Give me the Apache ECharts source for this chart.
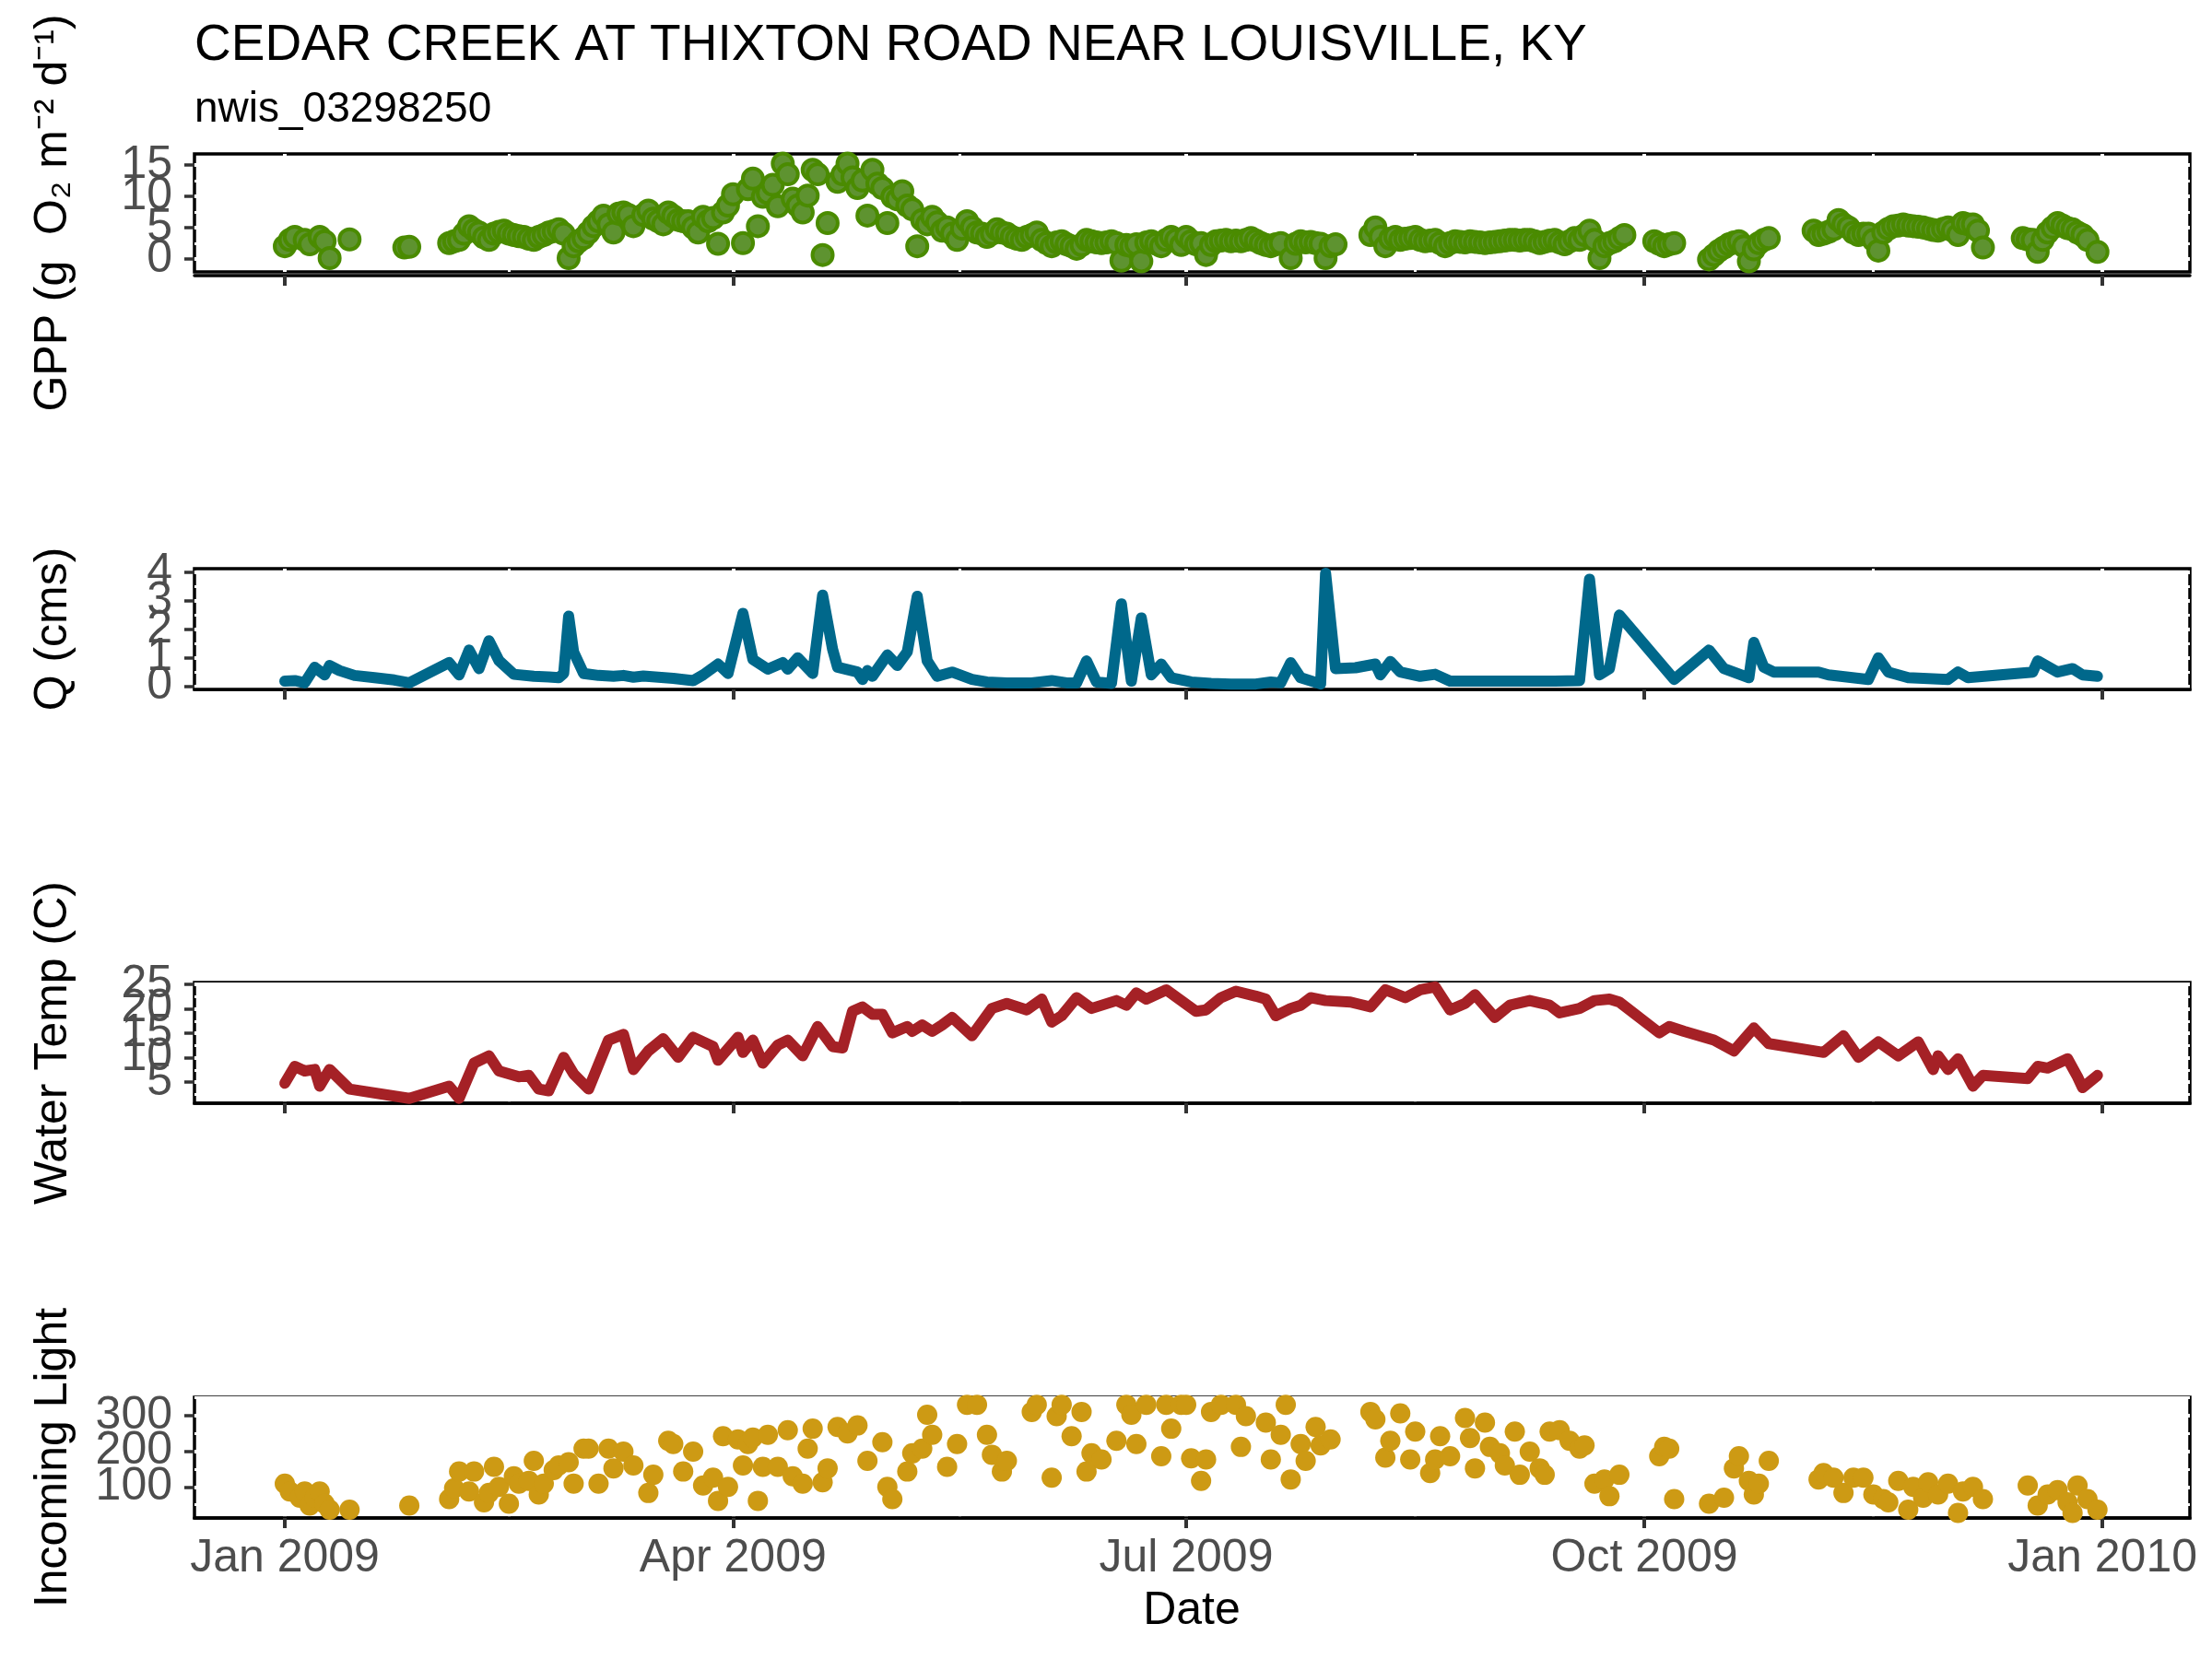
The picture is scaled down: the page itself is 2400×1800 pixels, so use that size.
<!DOCTYPE html>
<html>
<head>
<meta charset="utf-8">
<script src="https://cdn.jsdelivr.net/npm/echarts@6/dist/echarts.min.js"></script>
<style>html,body{margin:0;padding:0;background:#fff}#c{width:2400px;height:1800px}</style>
</head>
<body>
<div id="c"></div>
<script>
// ---- data (days counted from 2009-01-01) ----
const chartTitle = 'CEDAR CREEK AT THIXTON ROAD NEAR LOUISVILLE, KY';
const chartSubtitle = 'nwis_03298250';
const xTickDays = [0, 90, 181, 273, 365];
const xTickLabels = ['Jan 2009', 'Apr 2009', 'Jul 2009', 'Oct 2009', 'Jan 2010'];
const xMinorDays = [45, 135.5, 227, 319];

const gppDays = [0,1,2,4,5,7,8,9,13,24,25,
 33,34,35,36,37,38,39,40,41,42,43,44,45,46,47,48,49,50,51,52,53,54,55,56,57,58,59,60,61,62,63,64,65,66,67,68,69,70,72,73,74,75,76,77,78,79,80,81,82,83,84,85,86,87,88,89,90,92,93,94,95,96,97,98,99,100,101,102,103,104,105,106,107,108,109,111,112,113,114,115,116,117,118,119,120,121,122,123,124,125,126,127,128,129,130,131,132,133,134,135,136,137,138,139,140,141,142,143,144,145,146,147,148,149,150,151,152,153,154,155,156,157,158,159,160,161,162,163,164,165,166,167,168,169,170,171,172,173,174,175,176,177,178,179,180,181,182,183,184,185,186,187,188,189,190,191,192,193,194,195,196,197,198,199,200,202,203,204,205,206,207,208,209,210,211,
 218,219,220,221,222,223,224,225,226,227,228,229,230,231,232,233,234,235,236,237,238,239,240,241,242,243,244,245,246,247,248,249,250,251,252,253,254,255,256,257,258,259,260,261,262,263,264,265,266,267,268,269,
 275,276,277,278,279,
 286,287,288,289,290,291,292,293,294,295,296,297,298,
 307,308,309,310,311,312,313,314,315,316,317,318,319,320,321,322,323,324,325,326,327,328,329,330,331,332,333,334,335,336,337,338,339,340,341,
 349,350,351,352,353,354,355,356,357,358,359,360,361,362,364];
const gppValues = [2.0,3.0,3.5,3.0,2.3,3.5,2.8,0.1,3.1,1.8,1.9,
 2.5,2.8,3.0,4.0,5.2,4.6,4.2,3.4,3.0,4.0,4.3,4.5,4.0,3.8,3.6,3.5,3.2,3.0,3.5,3.8,4.2,4.4,4.7,4.0,0.1,2.0,2.8,3.3,4.2,5.2,6.0,6.9,5.5,4.2,7.2,7.4,7.0,5.2,7.0,7.7,6.4,6.0,5.5,7.4,6.8,6.2,6.0,6.0,5.0,4.2,6.7,6.0,6.5,2.4,7.4,8.5,10.3,2.5,11.1,12.8,5.2,9.9,10.5,11.8,8.4,15.2,13.5,9.6,8.5,7.4,10.1,14.2,13.5,0.6,5.7,12.3,13.5,15.2,13.0,11.3,12.5,6.9,14.2,12.0,11.3,5.7,9.9,9.5,10.8,8.5,7.9,2.0,6.2,5.5,6.7,5.8,4.5,5.0,4.0,3.0,4.8,6.0,5.0,4.2,4.0,3.5,4.0,4.7,4.2,4.0,3.5,3.2,3.0,3.5,3.8,4.2,3.0,2.5,2.0,2.6,2.8,2.3,2.0,1.6,2.2,3.0,2.8,2.6,2.5,2.6,2.8,2.5,-0.3,2.2,2.0,2.3,-0.4,2.6,2.8,2.4,2.0,3.0,3.5,3.0,2.2,3.5,2.8,2.3,2.5,0.6,2.2,2.8,2.9,3.0,2.8,2.9,2.8,3.0,3.3,2.9,2.5,2.2,2.0,2.3,2.5,0.1,2.4,2.8,2.6,2.7,2.5,2.4,0.1,2.0,2.3,
 3.8,5.0,3.5,2.0,3.2,3.5,3.0,3.2,3.3,3.5,3.0,2.8,2.9,3.0,2.5,2.0,2.5,2.8,2.7,2.6,2.8,2.7,2.6,2.5,2.6,2.7,2.8,2.9,3.0,3.0,2.9,3.0,3.0,2.8,2.5,2.7,2.9,3.0,2.6,2.3,2.8,3.3,3.0,3.8,4.5,3.0,0.1,2.0,2.5,2.8,3.3,3.8,
 2.8,2.4,2.0,2.3,2.5,
 -0.1,0.6,1.3,1.8,2.3,2.6,2.8,2.0,-0.4,1.5,2.5,3.0,3.3,
 4.5,3.8,4.0,4.3,4.7,6.2,5.5,5.0,4.2,3.8,4.0,4.0,3.0,1.3,4.2,4.8,5.2,5.3,5.5,5.3,5.2,5.1,5.0,4.8,4.6,4.5,4.8,5.0,4.5,3.8,5.7,5.5,5.5,4.5,1.8,
 3.3,3.1,3.0,1.1,3.0,4.2,5.0,5.7,5.3,4.9,4.7,4.2,3.8,3.0,1.1];

const qDays = [0,2,4,6,8,9,11,14,18,22,25,33,35,37,39,41,43,46,50,53,55,56,57,58,60,63,66,68,70,72,75,78,82,84,87,89,92,94,97,100,101,103,106,108,110,111,115,116,117,118,121,123,125,127,129,131,134,138,141,145,150,154,157,159,161,163,166,168,170,172,174,176,178,182,186,190,195,198,200,202,204,208,209,211,215,219,220,222,224,228,231,234,240,250,255,260,262,264,266,268,279,286,289,294,295,297,299,308,310,318,320,322,326,334,336,338,351,352,356,359,361,364];
const qValues = [0.18,0.2,0.12,0.67,0.4,0.73,0.55,0.38,0.3,0.22,0.12,0.83,0.4,1.27,0.62,1.6,0.9,0.42,0.35,0.33,0.3,0.45,2.46,1.2,0.45,0.38,0.35,0.38,0.32,0.36,0.32,0.28,0.2,0.4,0.78,0.45,2.56,0.94,0.6,0.83,0.6,1.0,0.45,3.2,1.3,0.67,0.5,0.24,0.55,0.35,1.1,0.73,1.21,3.16,0.89,0.35,0.5,0.24,0.15,0.12,0.12,0.2,0.12,0.12,0.89,0.15,0.1,2.89,0.18,2.4,0.4,0.78,0.3,0.15,0.1,0.08,0.08,0.15,0.12,0.83,0.3,0.08,3.97,0.62,0.65,0.78,0.4,0.87,0.5,0.35,0.42,0.18,0.18,0.18,0.18,0.2,3.76,0.4,0.62,2.5,0.24,1.27,0.62,0.3,1.54,0.67,0.5,0.5,0.4,0.24,1.0,0.5,0.3,0.24,0.5,0.3,0.5,0.89,0.5,0.62,0.4,0.35];

const tempDays = [0,2,4,6,7,9,13,25,33,35,38,41,43,47,49,51,53,56,58,61,65,68,70,73,76,79,82,86,87,91,92,94,96,99,101,104,107,110,112,114,116,118,120,122,125,126,128,130,132,134,138,142,145,149,152,154,156,159,162,167,169,171,173,177,180,183,185,188,191,195,197,199,202,204,206,209,214,218,221,225,228,231,234,237,239,243,246,250,254,256,260,263,266,268,276,278,281,287,291,295,298,309,313,316,320,324,328,331,332,334,336,339,341,350,352,354,358,360,361,364];
const tempValues = [4.8,8.25,7.3,7.6,4.2,7.6,3.6,1.7,4.2,1.7,8.9,10.4,7.3,6.1,6.4,3.6,3.25,10.1,6.7,3.6,13.6,14.8,7.6,11.4,13.9,10.1,14.2,12.3,9.5,14.2,11.1,13.6,8.9,12.6,13.6,10.4,16.4,12.3,12.0,19.5,20.4,18.9,18.9,15.1,16.4,15.4,16.7,15.4,16.7,18.25,14.5,20.1,21.1,19.8,22.0,17.3,18.6,22.3,20.1,21.7,20.75,23.25,22.0,23.9,21.7,19.5,19.8,22.3,23.6,22.6,22.0,18.6,20.1,20.75,22.3,21.7,21.4,20.4,23.9,22.3,23.9,24.5,19.8,21.1,22.9,18.25,20.75,21.7,20.75,19.2,20.1,21.7,22.0,21.4,15.1,16.4,15.4,13.6,11.4,16.1,12.9,11.1,14.5,10.1,13.25,10.4,13.25,7.6,10.4,7.6,9.8,4.2,6.4,5.75,8.25,7.9,9.8,6.1,3.9,6.4];

const lightDays = [0,1,3,4,5,6,7,8,9,13,25,33,34,35,37,38,40,41,42,43,45,46,47,49,50,51,52,54,55,57,58,60,61,63,65,66,68,70,73,74,77,78,80,82,84,86,87,88,89,91,92,93,94,95,96,97,99,101,102,104,105,106,108,109,111,113,115,117,120,121,122,125,126,128,129,130,133,135,137,139,141,142,144,145,150,151,154,155,156,158,160,161,162,164,167,169,170,171,173,176,177,178,180,181,182,184,185,186,188,191,192,193,197,198,200,201,202,204,205,207,208,210,218,219,221,222,224,226,227,230,231,232,234,237,238,239,241,242,244,245,247,248,250,252,253,254,256,258,260,261,263,265,266,268,276,277,278,279,286,289,291,292,294,295,296,298,308,309,311,313,315,317,319,321,322,324,326,327,329,330,332,334,336,337,339,341,350,352,354,356,358,359,360,362,364];
const lightValues = [109,87,70,87,48,70,87,53,36,36,48,66,96,143,87,143,57,83,156,100,53,130,109,117,173,79,109,147,160,169,109,207,207,109,207,152,199,160,83,134,229,220,143,199,104,126,61,242,100,233,160,220,238,61,156,246,156,259,130,109,207,263,113,152,268,250,272,173,225,100,66,143,194,207,302,246,156,220,330,330,246,190,143,173,310,330,126,298,330,242,310,143,194,177,229,330,302,220,330,186,330,263,330,330,180,117,177,310,330,330,212,298,280,177,246,330,121,220,173,268,216,233,310,289,182,229,306,177,255,139,177,242,186,293,237,152,280,212,194,160,255,134,199,152,134,255,259,229,207,216,109,121,74,134,186,212,207,66,53,70,152,186,117,79,109,173,121,139,126,83,126,126,79,66,57,117,36,100,70,113,79,109,27,87,100,66,104,48,79,91,57,27,104,66,36];

const panels = [
  {name: 'GPP (g  O\u2082 m\u207B\u00B2 d\u207B\u00B9)', days: gppDays, values: gppValues, kind: 'scatter',
   min: -2.1, max: 16.75, major: [0, 5, 10, 15], minor: [2.5, 7.5, 12.5]},
  {name: 'Q (cms)', days: qDays, values: qValues, kind: 'line',
   min: -0.11, max: 4.13, major: [0, 1, 2, 3, 4], minor: [0.5, 1.5, 2.5, 3.5]},
  {name: 'Water Temp (C)', days: tempDays, values: tempValues, kind: 'line',
   min: 0.7, max: 25.4, major: [5, 10, 15, 20, 25], minor: [2.5, 7.5, 12.5, 17.5, 22.5]},
  {name: 'Incoming Light', days: lightDays, values: lightValues, kind: 'scatter',
   min: 13, max: 351, major: [100, 200, 300], minor: [50, 150, 250, 350]}
];

// ---- layout / style ----
const DAY = 86400000;
const BASE = Date.UTC(2009, 0, 1);
const toTs = d => BASE + d * DAY;
const xMin = toTs(-18.14), xMax = toTs(382.56);
const colors = ['#4a8b00', '#00688B', '#A52126', '#CD9A14'];
const fillColors = ['#5e9330', '#00688B', '#A52126', '#CD9A14'];
const gridTops = [167, 617, 1066, 1516];
const gridHeights = [128, 131, 131, 131];
const FONT = '"Liberation Sans", Arial, sans-serif';
const majorTs = xTickDays.map(toTs);
const minorTs = xMinorDays.map(toTs);
const Y_PER_GRID = 5;

const grid = [], xAxis = [], yAxis = [], series = [], graphic = [];
panels.forEach((p, i) => {
  grid.push({left: 211, right: 24, top: gridTops[i], height: gridHeights[i], show: true,
    borderColor: '#000', borderWidth: 3.5, backgroundColor: 'transparent'});
  xAxis.push({type: 'value', gridIndex: i, min: xMin, max: xMax, position: 'bottom', z: 3,
    offset: i === 0 ? 4 : 0,
    axisLine: {show: true, onZero: false, lineStyle: {color: '#000', width: 3.5}},
    axisTick: {show: true, length: 11, inside: false, lineStyle: {color: '#333', width: 4}, customValues: majorTs},
    axisLabel: {show: i === 3, customValues: majorTs, hideOverlap: false, showMinLabel: true, showMaxLabel: true,
      fontSize: 50, fontFamily: FONT, color: '#4D4D4D', margin: 19,
      formatter: v => { const k = majorTs.indexOf(v); return k >= 0 ? xTickLabels[k] : ''; }},
    splitLine: {show: true, lineStyle: {color: '#fff', width: 4}},
    minorTick: {show: false}, minorSplitLine: {show: false}});
  xAxis.push({type: 'value', gridIndex: i, min: xMin, max: xMax, position: 'top', z: 2,
    axisLine: {show: false}, axisTick: {show: false, customValues: minorTs},
    axisLabel: {show: false, customValues: minorTs},
    splitLine: {show: true, lineStyle: {color: '#fff', width: 3}}});
  // main y axis: ticks + white major grid lines
  yAxis.push({type: 'value', gridIndex: i, min: p.min, max: p.max, position: 'left', z: 2,
    axisLine: {show: false},
    axisTick: {show: true, length: 11, lineStyle: {color: '#333', width: 3.5}, customValues: p.major},
    axisLabel: {show: false, customValues: p.major},
    splitLine: {show: true, lineStyle: {color: '#fff', width: 4}}});
  // minor y grid lines
  yAxis.push({type: 'value', gridIndex: i, min: p.min, max: p.max, position: 'right', z: 2,
    axisLine: {show: false}, axisTick: {show: false, customValues: p.minor},
    axisLabel: {show: false, customValues: p.minor},
    splitLine: {show: true, lineStyle: {color: '#fff', width: 3}}});
  // tick labels, split over three label-only axes so none are dropped
  for (let g = 0; g < 3; g++) {
    const vals = p.major.filter((v, k) => k % 3 === g);
    yAxis.push({type: 'value', gridIndex: i, min: p.min, max: p.max, position: 'left', offset: 0, z: 2,
      axisLine: {show: false}, axisTick: {show: false, customValues: vals.length ? vals : [p.min]},
      axisLabel: {show: vals.length > 0, customValues: vals.length ? vals : [p.min], hideOverlap: false,
        showMinLabel: true, showMaxLabel: true,
        fontSize: 50, fontFamily: FONT, color: '#4D4D4D', margin: 24},
      splitLine: {show: false}});
  }
  const data = p.days.map((d, k) => [toTs(d), p.values[k]]);
  if (p.kind === 'scatter') {
    series.push({type: 'scatter', xAxisIndex: 2 * i, yAxisIndex: Y_PER_GRID * i, data, symbolSize: 22, z: 5,
      itemStyle: {color: fillColors[i], borderColor: colors[i], borderWidth: i === 0 ? 4 : 0, opacity: 1},
      silent: true});
  } else {
    series.push({type: 'line', xAxisIndex: 2 * i, yAxisIndex: Y_PER_GRID * i, data, showSymbol: false, z: 5,
      lineStyle: {color: colors[i], width: 12, cap: 'round', join: 'round'}, silent: true});
  }
  graphic.push({type: 'text', x: 58, y: gridTops[i] + gridHeights[i] / 2, rotation: Math.PI / 2,
    style: {text: p.name, fontSize: 50, fontFamily: FONT, fill: '#000', align: 'center', verticalAlign: 'middle'}});
});
graphic.push({type: 'text', x: 1293, y: 1748,
  style: {text: 'Date', fontSize: 50, fontFamily: FONT, fill: '#000', align: 'center', verticalAlign: 'middle'}});

const chart = echarts.init(document.getElementById('c'), null, {renderer: 'canvas'});
chart.setOption({
  animation: false,
  backgroundColor: '#fff',
  title: [
    {text: chartTitle, left: 211, top: 22, padding: 0, textStyle: {fontSize: 55, fontWeight: 'normal', color: '#000', fontFamily: FONT}},
    {text: chartSubtitle, left: 211, top: 96, padding: 0, textStyle: {fontSize: 46, fontWeight: 'normal', color: '#000', fontFamily: FONT}}
  ],
  grid, xAxis, yAxis, series, graphic
});
</script>
</body>
</html>
